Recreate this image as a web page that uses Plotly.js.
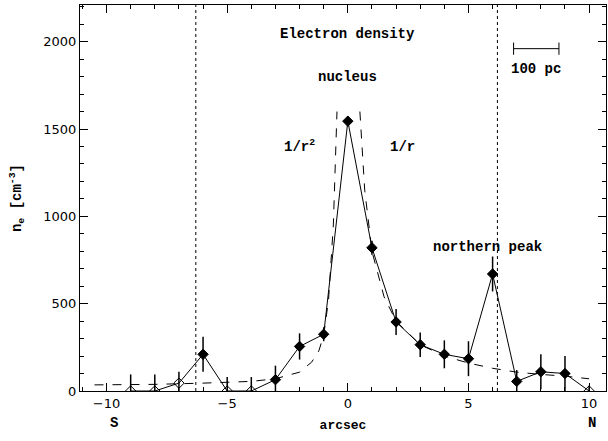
<!DOCTYPE html>
<html>
<head>
<script src="https://cdn.plot.ly/plotly-3.0.1.min.js"></script>
<style>body{margin:0;background:#fff}#chart{width:608px;height:441px}</style>
</head>
<body>
<div id="chart"></div>
<script>
// measured profile along the slit
let pos = [-9, -8, -7, -6, -5, -4, -3, -2, -1, 0, 1, 2, 3, 4, 5, 6, 7, 8, 9, 10];
let dens = [0, 0, 45, 210, 0, 0, 65, 255, 325, 1545, 820, 395, 265, 210, 185, 670, 55, 110, 100, 0];
let densErr = [95, 95, 65, 100, 80, 80, 80, 75, 40, 30, 40, 75, 70, 80, 100, 100, 65, 100, 100, 30];
let openPt = [1, 1, 1, 0, 1, 1, 0, 0, 0, 0, 0, 0, 0, 0, 0, 0, 0, 0, 0, 1];

// power-law model (1/r^2 to the south, 1/r to the north)
let modelX = [-10.5, -8, -6, -4, -3, -2, -1.5, -1.2, -1, -0.8, -0.6, -0.45, null, 0.5, 0.7, 1, 1.5, 2, 3, 4, 5, 6, 7, 8, 9, 10];
let modelY = [35, 38, 45, 55, 70, 108, 165, 230, 320, 520, 950, 1600, null, 1600, 1150, 800, 540, 400, 265, 200, 160, 130, 108, 95, 85, 70];

let line = { color: "black", width: 1 };

let traces = [
  {
    x: modelX, y: modelY, mode: "lines",
    line: { color: "black", width: 1, dash: "dash" }, hoverinfo: "skip"
  },
  {
    x: pos, y: dens, mode: "lines+markers",
    line: line,
    marker: {
      symbol: openPt.map((o) => (o ? "diamond-open" : "diamond")),
      size: 8, color: "black", line: { color: "black", width: 1 }
    },
    error_y: { type: "data", array: densErr, color: "black", thickness: 1.5, width: 0 }
  },
  {
    // scale bar
    x: [6.87, 8.75], y: [1960, 1960], mode: "lines", line: line,
    hoverinfo: "skip"
  }
];

let axisStyle = {
  showline: true, mirror: "ticks", linecolor: "black", linewidth: 1,
  ticks: "inside", ticklen: 8, tickcolor: "black",
  zeroline: false, showgrid: false,
  tickfont: { family: "DejaVu Sans", size: 13, color: "black" }
};

let txtFont = { family: "Liberation Mono", size: 14, color: "black", weight: "bold" };

let layout = {
  width: 608, height: 441,
  margin: { l: 80, r: 2, t: 5, b: 50 },
  showlegend: false,
  plot_bgcolor: "white", paper_bgcolor: "white",
  xaxis: Object.assign({}, axisStyle, {
    range: [-11.1, 10.7], dtick: 5, tick0: 0,
    minor: { dtick: 1, ticks: "inside", ticklen: 4, tickcolor: "black" },
    title: { text: "arcsec", font: { family: "Liberation Mono", size: 13, color: "black", weight: "bold" }, standoff: 10 }
  }),
  yaxis: Object.assign({}, axisStyle, {
    range: [0, 2210], dtick: 500,
    minor: { dtick: 100, ticks: "inside", ticklen: 4, tickcolor: "black" },
    title: { text: "n<sub>e</sub> [cm<sup>-3</sup>]", font: { family: "Liberation Mono", size: 14, color: "black", weight: "bold" }, standoff: 18 }
  }),
  shapes: [
    { type: "line", x0: -6.3, x1: -6.3, y0: 0, y1: 1, yref: "paper", line: { color: "black", width: 1, dash: "dot" } },
    { type: "line", x0: 6.2, x1: 6.2, y0: 0, y1: 1, yref: "paper", line: { color: "black", width: 1, dash: "dot" } },
    { type: "line", x0: 6.87, x1: 6.87, y0: 1925, y1: 1995, line: line },
    { type: "line", x0: 8.75, x1: 8.75, y0: 1925, y1: 1995, line: line }
  ],
  annotations: [
    { x: 0, y: 2045, text: "Electron density", showarrow: false, font: txtFont },
    { x: 0, y: 1795, text: "nucleus", showarrow: false, font: txtFont },
    { x: -2.0, y: 1400, text: "1/r<sup>2</sup>", showarrow: false, font: txtFont },
    { x: 2.25, y: 1395, text: "1/r", showarrow: false, font: txtFont },
    { x: 5.8, y: 823, text: "northern peak", showarrow: false, font: txtFont },
    { x: 7.8, y: 1845, text: "100 pc", showarrow: false, font: txtFont },
    { x: -9.7, y: -0.11, yref: "paper", text: "S", showarrow: false, font: txtFont },
    { x: 10.1, y: -0.11, yref: "paper", text: "N", showarrow: false, font: txtFont }
  ]
};

Plotly.newPlot("chart", traces, layout, { staticPlot: true, displayModeBar: false });
</script>
</body>
</html>
